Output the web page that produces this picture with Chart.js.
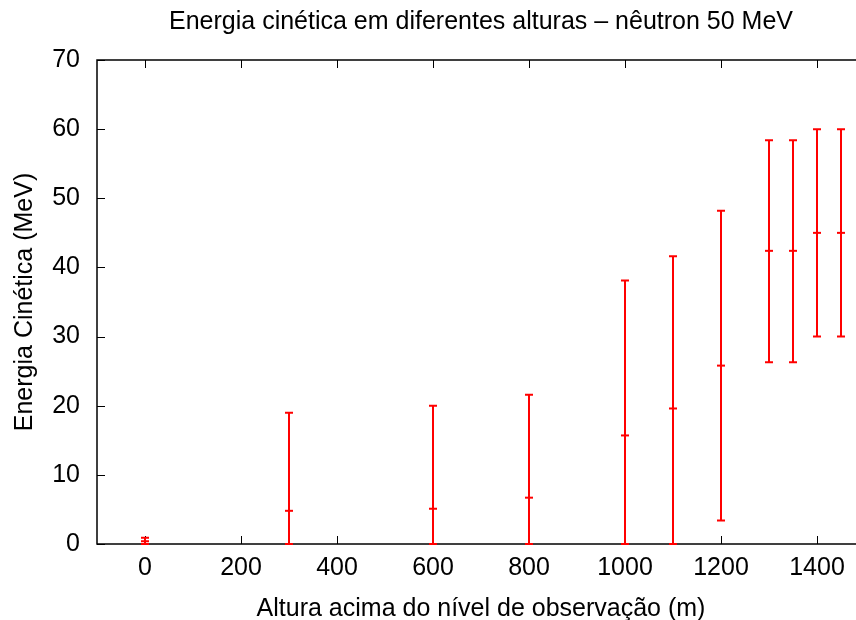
<!DOCTYPE html>
<html>
<head>
<meta charset="utf-8">
<script src="https://cdn.jsdelivr.net/npm/chart.js@4"></script>
<style>
    html, body { margin: 0; padding: 0; background: #fff; overflow: hidden; }
    #wrap { width: 872px; height: 624px; }
</style>
</head>
<body>
<div id="wrap"><canvas id="chart" width="872" height="624"></canvas></div>
<script>
// Energia cinetica x altura (gnuplot look)

const alturas  = [0, 300, 600, 800, 1000, 1100, 1200, 1300, 1350, 1400, 1450];
const energia  = [0.4, 4.8, 5.1, 6.7, 15.7, 19.6, 25.8, 42.4, 42.4, 45.0, 45.0];
const erroMin  = [0, 0, 0, 0, 0, 0, 3.4, 26.3, 26.3, 30.0, 30.0];
const erroMax  = [0.9, 19.0, 20.0, 21.6, 38.1, 41.6, 48.2, 58.4, 58.4, 60.0, 60.0];

const xTicks = [0, 200, 400, 600, 800, 1000, 1200, 1400];
const yTicks = [0, 10, 20, 30, 40, 50, 60, 70];

const FONT = "'Liberation Sans', Arial, sans-serif";
const RED = '#ff0000';

// border, inward ticks (mirrored) and error bars
const gnuplotFrame = {
    id: 'gnuplotFrame',
    beforeDatasetsDraw(chart) {
        const { ctx, chartArea: a, scales: { x, y } } = chart;
        ctx.save();
        ctx.strokeStyle = '#000';
        ctx.lineWidth = 1;
        ctx.beginPath();
        x.ticks.forEach(t => {
            const px = Math.round(x.getPixelForValue(t.value)) + 0.5;
            ctx.moveTo(px, a.bottom); ctx.lineTo(px, a.bottom - 8);
            ctx.moveTo(px, a.top); ctx.lineTo(px, a.top + 8);
        });
        y.ticks.forEach(t => {
            const py = Math.round(y.getPixelForValue(t.value)) + 0.5;
            ctx.moveTo(a.left, py); ctx.lineTo(a.left + 8, py);
            ctx.moveTo(a.right, py); ctx.lineTo(a.right - 8, py);
        });
        ctx.stroke();
        ctx.lineWidth = 1.5;
        ctx.strokeRect(a.left, a.top, a.right - a.left, a.bottom - a.top);
        ctx.restore();
    },
    afterDatasetsDraw(chart) {
        const { ctx, scales: { x, y } } = chart;
        ctx.save();
        ctx.strokeStyle = RED;
        ctx.lineWidth = 2;
        ctx.beginPath();
        alturas.forEach((h, i) => {
            const px = x.getPixelForValue(h);
            const lo = y.getPixelForValue(erroMin[i]);
            const hi = y.getPixelForValue(erroMax[i]);
            ctx.moveTo(px, lo); ctx.lineTo(px, hi);
            ctx.moveTo(px - 4, lo); ctx.lineTo(px + 4, lo);
            ctx.moveTo(px - 4, hi); ctx.lineTo(px + 4, hi);
        });
        ctx.stroke();
        ctx.restore();
    }
};

new Chart(document.getElementById('chart'), {
    type: 'scatter',
    data: {
        datasets: [{
            data: alturas.map((h, i) => ({ x: h, y: energia[i] })),
            pointStyle: 'line',
            pointRadius: 4,
            borderColor: RED,
            backgroundColor: RED,
            borderWidth: 2
        }]
    },
    options: {
        responsive: false,
        devicePixelRatio: 1,
        animation: false,
        layout: { padding: { left: 0, right: 7, top: 0, bottom: 0 } },
        plugins: {
            legend: { display: false },
            tooltip: { enabled: false },
            title: {
                display: true,
                fullSize: false,
                text: 'Energia cinética em diferentes alturas – nêutron 50 MeV',
                color: '#000',
                font: { family: FONT, size: 25, weight: 'normal' },
                padding: { top: 7, bottom: 23 }
            }
        },
        scales: {
            x: {
                type: 'linear',
                min: -100,
                max: 1500,
                afterBuildTicks: s => { s.ticks = xTicks.map(v => ({ value: v })); },
                afterFit: s => { s.height = 80; },
                grid: { display: false, drawTicks: false },
                border: { display: false },
                ticks: {
                    color: '#000',
                    padding: 9,
                    maxRotation: 0,
                    callback: v => String(v),
                    font: { family: FONT, size: 25 }
                },
                title: {
                    display: true,
                    text: 'Altura acima do nível de observação (m)',
                    color: '#000',
                    font: { family: FONT, size: 25 },
                    padding: { top: 0, bottom: 0 }
                }
            },
            y: {
                min: 0,
                max: 70,
                afterBuildTicks: s => { s.ticks = yTicks.map(v => ({ value: v })); },
                afterFit: s => { s.width = 97; },
                grid: { display: false, drawTicks: false },
                border: { display: false },
                ticks: {
                    color: '#000',
                    padding: 17,
                    callback: v => String(v),
                    font: { family: FONT, size: 25 }
                },
                title: {
                    display: true,
                    text: 'Energia Cinética (MeV)',
                    color: '#000',
                    font: { family: FONT, size: 25 },
                    padding: { top: 10, bottom: 0 }
                }
            }
        }
    },
    plugins: [gnuplotFrame]
});
</script>
</body>
</html>
